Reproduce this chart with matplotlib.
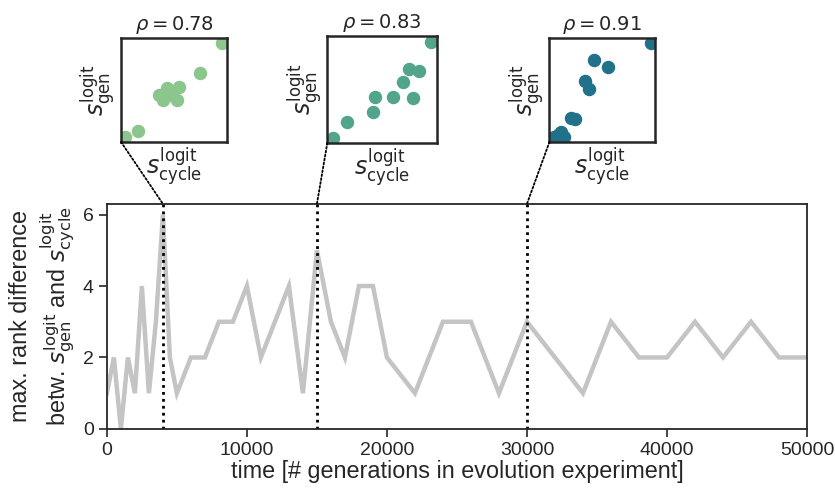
import numpy as np
import matplotlib
matplotlib.use("Agg")
import matplotlib.pyplot as plt
from matplotlib.patches import ConnectionPatch

plt.rcParams['font.family'] = ['Liberation Sans', 'DejaVu Sans']
plt.rcParams['mathtext.fontset'] = 'dejavusans'

# max. rank difference over the evolution experiment
time = [0, 500, 1000, 1500, 2000, 2500, 3000, 3500, 4000, 4500, 5000,
        6000, 7000, 8000, 9000, 10000, 11000, 13000, 14000, 15000, 16000,
        17000, 18000, 19000, 20000, 22000, 24000, 26000, 28000, 30000,
        34000, 36000, 38000, 40000, 42000, 44000, 46000, 48000, 50000]
rank_diff = [1, 2, 0, 2, 1, 4, 1, 3, 6, 2, 1,
             2, 2, 3, 3, 4, 2, 4, 1, 5, 3,
             2, 4, 4, 2, 1, 3, 3, 1, 3,
             1, 3, 2, 2, 3, 2, 3, 2, 2]

# time points shown as scatter insets
snap_times = [4000, 15000, 30000]
snap_rho = [0.78, 0.83, 0.91]
snap_colors = ['#8bc68c', '#52a58c', '#21718b']

# scores (scaled to each snapshot's range)
s_cycle = [
    [0.04, 0.16, 0.36, 0.40, 0.43, 0.48, 0.53, 0.55, 0.74, 0.95],
    [0.05, 0.18, 0.42, 0.44, 0.60, 0.78, 0.69, 0.75, 0.84, 0.95],
    [0.04, 0.08, 0.11, 0.14, 0.20, 0.24, 0.34, 0.37, 0.42, 0.55, 0.96],
]
s_gen = [
    [0.05, 0.11, 0.45, 0.40, 0.52, 0.45, 0.40, 0.53, 0.66, 0.95],
    [0.05, 0.20, 0.29, 0.43, 0.43, 0.42, 0.57, 0.69, 0.68, 0.95],
    [0.05, 0.07, 0.10, 0.05, 0.23, 0.22, 0.59, 0.51, 0.79, 0.72, 0.95],
]

fig = plt.figure(figsize=(8.35, 4.93), dpi=100)
ax = fig.add_axes([0.128, 0.130, 0.8385, 0.4565])

ax.plot(time, rank_diff, color='#c4c4c4', lw=3.2, solid_joinstyle='miter')
ax.set_xlim(0, 50000)
ax.set_ylim(0, 6.3)
ax.set_yticks([0, 2, 4, 6])
ax.set_xticks([0, 10000, 20000, 30000, 40000, 50000])
ax.tick_params(labelsize=14, length=6, width=1.2, color='#262626',
               labelcolor='#262626')
for sp in ax.spines.values():
    sp.set_linewidth(1.3)
    sp.set_color('#262626')
ax.set_xlabel('time [# generations in evolution experiment]', fontsize=16.8,
              color='#262626', labelpad=1)
ax.set_ylabel('max. rank difference\n'
              r'betw. $s_{\mathrm{gen}}^{\mathrm{logit}}$ and '
              r'$s_{\mathrm{cycle}}^{\mathrm{logit}}$',
              fontsize=16.8, color='#262626', linespacing=1.25, labelpad=4)

for t in snap_times:
    ax.axvline(t, color='black', ls=(0, (1, 1.5)), lw=2)

inset_pos = [
    [0.145, 0.712, 0.127, 0.211],
    [0.392, 0.710, 0.131, 0.216],
    [0.658, 0.712, 0.127, 0.211],
]

for pos, t, rho, col, xs, ys in zip(inset_pos, snap_times, snap_rho,
                                    snap_colors, s_cycle, s_gen):
    ins = fig.add_axes(pos)
    ins.scatter(xs, ys, s=75, color=col, zorder=3)
    ins.set_xlim(0, 1)
    ins.set_ylim(0, 1)
    ins.set_xticks([])
    ins.set_yticks([])
    for sp in ins.spines.values():
        sp.set_linewidth(1.8)
        sp.set_color('#262626')
        sp.set_zorder(4)
    ins.set_title(r'$\rho = %.2f$' % rho, fontsize=14, color='#262626', pad=6)
    ins.set_xlabel(r'$s_{\mathrm{cycle}}^{\mathrm{logit}}$', fontsize=17,
                   color='#262626', labelpad=2)
    ins.set_ylabel(r'$s_{\mathrm{gen}}^{\mathrm{logit}}$', fontsize=17,
                   color='#262626', labelpad=2)
    con = ConnectionPatch(xyA=(0, 0), coordsA=ins.transAxes,
                          xyB=(t, 6.3), coordsB=ax.transData,
                          color='black', ls=(0, (1, 1.2)), lw=1.3)
    fig.add_artist(con)

fig.savefig('out.png', dpi=100)
